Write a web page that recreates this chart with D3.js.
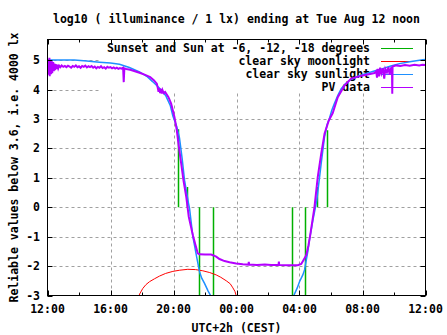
<!DOCTYPE html>
<html>
<head>
<meta charset="utf-8">
<script src="https://cdn.jsdelivr.net/npm/d3@7"></script>
<style>
  body { margin: 0; background: #fff; }
  text { font-family: "DejaVu Sans Mono", monospace; font-weight: bold; font-size: 11.5px; fill: #000; }
  .grid line { stroke: #a0a0a0; stroke-width: 1; stroke-dasharray: 3,3; }
  .line { fill: none; }
</style>
</head>
<body>
<div id="chart"></div>
<script>
// hours after Monday 12:00 (CEST), value = log10(lux)
var xTicks = [0, 4, 8, 12, 16, 20, 24];
var xTickLabels = ["12:00", "16:00", "20:00", "00:00", "04:00", "08:00", "12:00"];
var xMinor = [2, 6, 10, 14, 18, 22];
var yTicks = [-3, -2, -1, 0, 1, 2, 3, 4, 5];

var keyLabels = ["Sunset and Sun at -6, -12, -18 degrees", "clear sky moonlight", "clear sky sunlight", "PV data"];

// sunset, -6, -12, -18 in the evening, then back up in the morning
var sunTimes = [8.30, 8.87, 9.63, 10.53, 15.50, 16.37, 17.13, 17.76];
var sunTops  = [2.65, 0.69, -3.6, -3.6, -3.6, -3.6, 0.69, 2.62];

var moonlight = [
  [5.78, -3.05], [5.85, -2.95], [6.05, -2.76], [6.25, -2.63], [6.48, -2.53], [6.8, -2.43],
  [7.11, -2.34], [7.5, -2.25], [7.96, -2.18], [8.4, -2.14], [8.91, -2.11], [9.4, -2.12],
  [9.86, -2.16], [10.3, -2.22], [10.71, -2.3], [11.0, -2.38], [11.35, -2.5], [11.6, -2.6],
  [11.77, -2.74], [11.9, -2.86], [11.98, -3.0], [12.02, -3.1]
];

var sunlight = [
  [0, 5.0], [1.7, 5.0], [2.5, 4.97], [3.3, 4.93], [4.0, 4.9], [4.57, 4.86], [5.2, 4.75],
  [5.84, 4.6], [6.3, 4.45], [6.67, 4.27], [7.1, 4.05], [7.5, 3.8], [7.8, 3.45], [7.96, 3.1],
  [8.2, 2.75], [8.38, 2.36], [8.55, 1.65], [8.7, 0.92], [8.85, 0.45], [8.95, 0.14], [9.02, -0.05],
  [9.23, -1.0], [9.44, -1.6], [9.65, -2.19], [9.8, -2.42], [9.97, -2.59], [10.2, -2.85],
  [10.35, -3.0], [10.45, -3.2],
  [15.5, -3.3], [15.64, -3.0], [15.85, -2.75], [16.0, -2.53], [16.21, -2.3], [16.32, -2.13],
  [16.53, -1.5], [16.63, -1.12], [16.85, -0.45], [17.1, 0.24], [17.38, 1.5], [17.59, 2.39],
  [17.75, 2.8], [17.88, 2.98], [18.05, 3.3], [18.22, 3.53], [18.45, 3.82], [18.65, 4.03],
  [18.9, 4.19], [19.17, 4.31], [19.7, 4.45], [20.24, 4.55], [20.8, 4.64], [21.27, 4.71],
  [21.8, 4.8], [22.35, 4.88], [23.1, 4.95], [23.83, 5.01], [24, 5.02]
];

var pvData = [
  [0.00, 4.85], [0.02, 4.55], [0.04, 5.02], [0.06, 4.50], [0.08, 4.98], [0.10, 4.60],
  [0.12, 5.08], [0.14, 4.45], [0.16, 4.95], [0.18, 4.62], [0.20, 5.00], [0.22, 4.52],
  [0.24, 4.92], [0.26, 4.60], [0.28, 4.96], [0.30, 4.55], [0.32, 4.90], [0.34, 4.65],
  [0.36, 4.93], [0.40, 4.62], [0.44, 4.88], [0.48, 4.66], [0.52, 4.86], [0.56, 4.70],
  [0.62, 4.84], [0.68, 4.72], [0.74, 4.81], [0.82, 4.76], [0.9, 4.82], [1.0, 4.77],
  [1.1, 4.80], [1.2, 4.76], [1.3, 4.81], [1.4, 4.78], [1.5, 4.74], [1.6, 4.80], [1.7, 4.77],
  [1.8, 4.82], [1.9, 4.76], [2.0, 4.79], [2.1, 4.74], [2.2, 4.80], [2.3, 4.77], [2.4, 4.81],
  [2.5, 4.75], [2.6, 4.79], [2.7, 4.76], [2.8, 4.80], [2.9, 4.74], [3.0, 4.78], [3.1, 4.72],
  [3.2, 4.77], [3.3, 4.74], [3.4, 4.79], [3.5, 4.73], [3.6, 4.76], [3.7, 4.71], [3.8, 4.77],
  [3.9, 4.74], [4.0, 4.76], [4.1, 4.72], [4.2, 4.75], [4.3, 4.71], [4.4, 4.74], [4.5, 4.70],
  [4.6, 4.73], [4.7, 4.71], [4.8, 4.74], [4.84, 4.25], [4.88, 4.72], [5.0, 4.70],
  [5.25, 4.67], [5.5, 4.63], [5.89, 4.56], [6.2, 4.50], [6.52, 4.42], [6.75, 4.32],
  [6.94, 4.20], [7.0, 4.06], [7.05, 3.92], [7.1, 4.05], [7.15, 3.88], [7.2, 4.02],
  [7.25, 3.86], [7.3, 3.98], [7.38, 3.88], [7.47, 3.92], [7.68, 3.74], [7.85, 3.52],
  [8.06, 3.07], [8.21, 2.61], [8.34, 2.05], [8.49, 1.48], [8.63, 0.92], [8.81, 0.35],
  [8.97, -0.33], [9.23, -0.95], [9.40, -1.29], [9.54, -1.57], [9.65, -1.60], [10.0, -1.61],
  [10.39, -1.61], [10.50, -1.63], [10.71, -1.68], [10.92, -1.76], [11.24, -1.83],
  [11.56, -1.87], [11.98, -1.91], [12.40, -1.94], [12.76, -1.95], [12.78, -1.86],
  [12.80, -1.95], [13.3, -1.96], [13.8, -1.95], [14.2, -1.96], [14.67, -1.96], [14.69, -1.85],
  [14.71, -1.96], [15.2, -1.97], [15.89, -1.97], [16.11, -1.93], [16.25, -1.80],
  [16.43, -1.63], [16.57, -1.29], [16.68, -0.95], [16.95, 0.0], [17.16, 1.03], [17.38, 1.82],
  [17.59, 2.50], [17.86, 2.95], [18.11, 3.2], [18.43, 3.74], [18.86, 4.14], [19.28, 4.37],
  [20.02, 4.48], [20.76, 4.56], [20.87, 4.62], [20.92, 4.40], [20.97, 4.70], [21.05, 4.45],
  [21.12, 4.74], [21.2, 4.55], [21.3, 4.72], [21.38, 4.37], [21.45, 4.70], [21.55, 4.58],
  [21.65, 4.76], [21.72, 4.50], [21.82, 4.74], [21.87, 4.76], [21.89, 3.86], [21.91, 4.78],
  [22.14, 4.82], [22.4, 4.80], [22.7, 4.83], [23.0, 4.81], [23.3, 4.84], [23.6, 4.82],
  [23.8, 4.84], [24, 4.83]
];

var colGreen = "#00b000", colRed = "#ff0000", colBlue = "#1e90ff", colPurple = "#b400ff";

var width = 447, height = 335;
var box = {left: 47.5, right: 425.5, top: 39.5, bottom: 295.5};

var x = d3.scaleLinear().domain([0, 24]).range([box.left, box.right]);
var y = d3.scaleLinear().domain([-3, 5.7]).range([box.bottom, box.top]);

var svg = d3.select("#chart").append("svg")
    .attr("width", width)
    .attr("height", height);

svg.append("defs").append("clipPath")
    .attr("id", "plot-clip")
    .append("rect")
    .attr("x", box.left).attr("y", box.top)
    .attr("width", box.right - box.left).attr("height", box.bottom - box.top);

// dotted grid at the major ticks
var grid = svg.append("g").attr("class", "grid");
grid.selectAll(".gx").data(xTicks.slice(1, -1)).enter().append("line")
    .attr("x1", function(d) { return Math.round(x(d)) + 0.5; })
    .attr("x2", function(d) { return Math.round(x(d)) + 0.5; })
    .attr("y1", box.top).attr("y2", box.bottom);
grid.selectAll(".gy").data(yTicks.slice(1)).enter().append("line")
    .attr("x1", box.left).attr("x2", box.right)
    .attr("y1", function(d) { return Math.round(y(d)) + 0.5; })
    .attr("y2", function(d) { return Math.round(y(d)) + 0.5; });

// opaque key box
var key = svg.append("g");
key.append("rect")
    .attr("x", 99).attr("y", box.top)
    .attr("width", box.right - 99).attr("height", 52)
    .attr("fill", "#fff");

var keyColors = [colGreen, colRed, colBlue, colPurple];
keyLabels.forEach(function(label, i) {
    var cy = 47.5 + i * 13.1;
    key.append("text")
        .attr("x", 370).attr("y", cy + 4)
        .attr("text-anchor", "end")
        .text(label);
    key.append("line")
        .attr("x1", 381).attr("x2", 413)
        .attr("y1", Math.round(cy) + 0.5).attr("y2", Math.round(cy) + 0.5)
        .attr("stroke", keyColors[i])
        .attr("stroke-width", 1);
});

var plot = svg.append("g").attr("clip-path", "url(#plot-clip)");

// sun event impulses from 0
plot.selectAll(".sun").data(d3.zip(sunTimes, sunTops)).enter().append("line")
    .attr("x1", function(d) { return Math.round(x(d[0])) + 0.5; })
    .attr("x2", function(d) { return Math.round(x(d[0])) + 0.5; })
    .attr("y1", y(0))
    .attr("y2", function(d) { return y(d[1]); })
    .attr("stroke", colGreen)
    .attr("stroke-width", 1.5);

var line = d3.line()
    .x(function(d) { return x(d[0]); })
    .y(function(d) { return y(d[1]); });

plot.append("path")
    .datum(moonlight)
    .attr("class", "line")
    .attr("stroke", colRed)
    .attr("stroke-width", 1)
    .attr("d", line);

// two separate pieces: evening and morning
plot.append("path")
    .datum(sunlight.slice(0, 29))
    .attr("class", "line")
    .attr("stroke", colBlue)
    .attr("stroke-width", 1.5)
    .attr("d", line);
plot.append("path")
    .datum(sunlight.slice(29))
    .attr("class", "line")
    .attr("stroke", colBlue)
    .attr("stroke-width", 1.5)
    .attr("d", line);

plot.append("path")
    .datum(pvData)
    .attr("class", "line")
    .attr("stroke", colPurple)
    .attr("stroke-width", 2)
    .attr("d", line);

// border with mirrored inward ticks
svg.append("rect")
    .attr("x", box.left).attr("y", box.top)
    .attr("width", box.right - box.left).attr("height", box.bottom - box.top)
    .attr("fill", "none").attr("stroke", "#000");

var ticks = svg.append("g").attr("stroke", "#000");
xTicks.forEach(function(d) {
    var xx = Math.round(x(d)) + 0.5;
    ticks.append("line").attr("x1", xx).attr("x2", xx).attr("y1", box.bottom).attr("y2", box.bottom - 5);
    ticks.append("line").attr("x1", xx).attr("x2", xx).attr("y1", box.top).attr("y2", box.top + 5);
});
xMinor.forEach(function(d) {
    var xx = Math.round(x(d)) + 0.5;
    ticks.append("line").attr("x1", xx).attr("x2", xx).attr("y1", box.bottom).attr("y2", box.bottom - 3);
    ticks.append("line").attr("x1", xx).attr("x2", xx).attr("y1", box.top).attr("y2", box.top + 3);
});
yTicks.forEach(function(d) {
    var yy = Math.round(y(d)) + 0.5;
    ticks.append("line").attr("x1", box.left).attr("x2", box.left + 5).attr("y1", yy).attr("y2", yy);
    ticks.append("line").attr("x1", box.right).attr("x2", box.right - 5).attr("y1", yy).attr("y2", yy);
});

svg.selectAll(".xlab").data(xTicks).enter().append("text")
    .attr("x", function(d) { return x(d); })
    .attr("y", 313)
    .attr("text-anchor", "middle")
    .text(function(d, i) { return xTickLabels[i]; });

svg.selectAll(".ylab").data(yTicks).enter().append("text")
    .attr("x", 40)
    .attr("y", function(d) { return y(d) + 4; })
    .attr("text-anchor", "end")
    .text(function(d) { return d; });

svg.append("text")
    .attr("x", (box.left + box.right) / 2).attr("y", 23)
    .attr("text-anchor", "middle")
    .text("log10 ( illuminance / 1 lx) ending at Tue Aug 12 noon");

svg.append("text")
    .attr("x", (box.left + box.right) / 2).attr("y", 332)
    .attr("text-anchor", "middle")
    .text("UTC+2h (CEST)");

svg.append("text")
    .attr("transform", "translate(18," + ((box.top + box.bottom) / 2) + ") rotate(-90)")
    .attr("text-anchor", "middle")
    .text("Reliable values below 3.6, i.e. 4000 lx");
</script>
</body>
</html>
